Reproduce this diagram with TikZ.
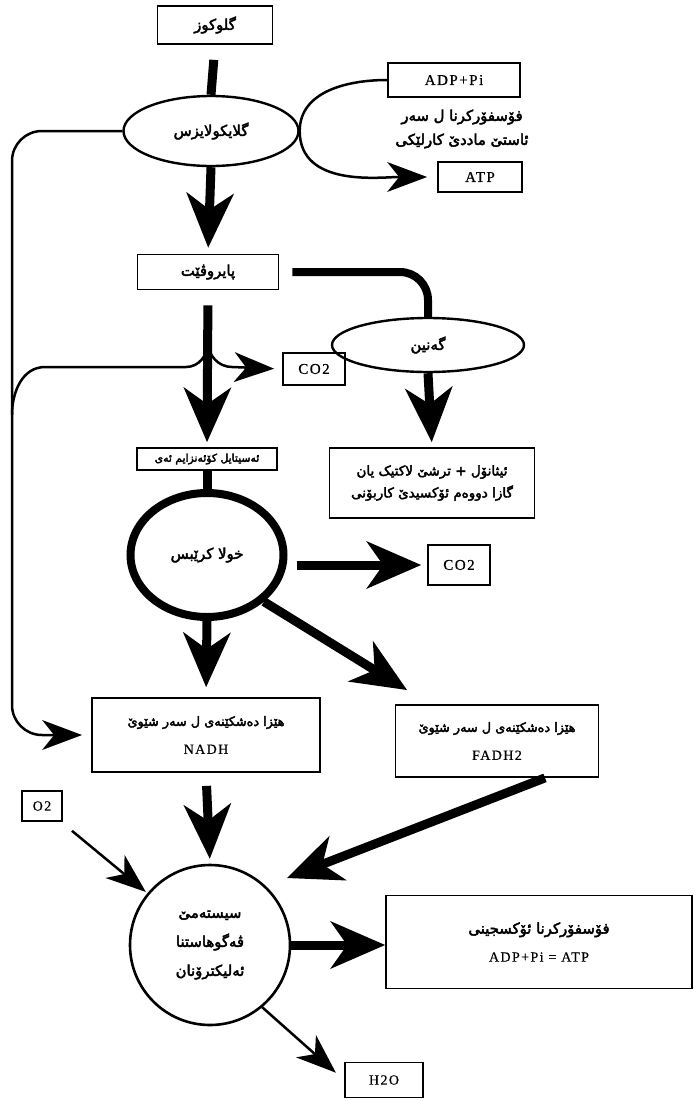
\documentclass[tikz,border=0pt]{standalone}
\usepackage{fontspec}
\setmainfont{Liberation Serif}
\newfontfamily\kurdfont[Script=Arabic, Scale=1.35, FakeBold=3]{DejaVu Sans}
\newfontfamily\latfont[LetterSpace=10, FakeBold=0.6]{Liberation Serif}
\TeXXeTstate=1
\usetikzlibrary{arrows.meta,shapes.geometric}
\newcommand{\kr}[1]{{\kurdfont\beginR #1\endR}}
\newcommand{\lat}[1]{{\latfont #1}}

\tikzset{
  box/.style = {draw, line width=1.8pt, inner sep=2pt, align=center,
    font=\fontsize{11}{20}\selectfont},
  oval/.style = {draw, ellipse, line width=2.4pt, inner sep=0pt,
    font=\fontsize{11}{12}\selectfont},
  bar/.style = {line width=9pt},
  big/.style = {line width=9pt,
    -{Stealth[length=55pt, width=48pt, inset=17pt, line width=0pt]}},
  slim/.style = {line width=2.5pt,
    -{Stealth[length=40pt, width=30pt, inset=12pt, line width=0pt]}}
}

\begin{document}
\begin{tikzpicture}[x=1pt, y=-1pt]
\useasboundingbox (0,0) rectangle (699,1101);

% glycolysis
\node[box, minimum width=115pt, minimum height=38pt] (glu) at (215,25) {\kr{گلوکوز}};
\node[oval, minimum width=175pt, minimum height=70pt] (gly) at (211,131) {\kr{گلایکولایزس}};
\node[box, minimum width=132pt, minimum height=34pt, font=\fontsize{15}{16}\selectfont] (adp) at (454,80) {\lat{ADP+Pi}};
\node[align=center, font=\fontsize{11}{24}\selectfont] (subst) at (462,129) {\kr{فۆسفۆرکرنا ل سەر}\\\kr{ئاستێ ماددێ کارلێکی}};
\node[box, minimum width=84pt, minimum height=30pt, font=\fontsize{15}{16}\selectfont] (atp) at (480,177) {\lat{ATP}};

% pyruvate and fermentation
\node[box, minimum width=141pt, minimum height=35pt] (pyr) at (208,272) {\kr{پایروڤێت}};
\node[oval, minimum width=192pt, minimum height=54pt] (ferm) at (428,345) {\kr{گەنین}};
\node[box, minimum width=62pt, minimum height=32pt, font=\fontsize{15}{16}\selectfont] (co2a) at (314,369) {\lat{CO2}};
\node[box, minimum width=140pt, minimum height=22pt, font=\fontsize{8}{10}\selectfont] (acoa) at (207,459) {\kr{ئەسیتایل کۆئەنزایم ئەی}};
\node[box, minimum width=205pt, minimum height=70pt, font=\fontsize{10}{22}\selectfont] (eth) at (432,483) {\kr{ئیثانۆل + ترشێ لاکتیک یان}\\\kr{گازا دووەم ئۆکسیدێ کاربۆنی}};

% krebs
\node[draw, ellipse, line width=8pt, minimum width=153pt, minimum height=124pt, font=\fontsize{11}{12}\selectfont] (krebs) at (207,555) {\kr{خولا کرێبس}};
\node[box, minimum width=62pt, minimum height=40pt, font=\fontsize{15}{16}\selectfont] (co2b) at (459,565) {\lat{CO2}};
\node[box, minimum width=228pt, minimum height=74pt, font=\fontsize{9.5}{28}\selectfont] (nadh) at (206,735) {\kr{هێزا دەشکێنەی ل سەر شێوێ}\\{\fontsize{14}{16}\selectfont\lat{NADH}}};
\node[box, minimum width=203pt, minimum height=72pt, font=\fontsize{9.5}{28}\selectfont] (fadh) at (497,741) {\kr{هێزا دەشکێنەی ل سەر شێوێ}\\{\fontsize{14}{16}\selectfont\lat{FADH2}}};

% electron transport
\node[box, minimum width=40pt, minimum height=30pt, font=\fontsize{14}{15}\selectfont] (o2) at (42,806) {\lat{O2}};
\node[draw, circle, line width=2.6pt, minimum size=160pt, align=center, font=\fontsize{11}{29}\selectfont] (ets) at (210,945) {\kr{سیستەمێ}\\\kr{ڤەگوهاستنا}\\\kr{ئەلیکترۆنان}};
\node[box, minimum width=306pt, minimum height=93pt, font=\fontsize{11}{28}\selectfont] (oxp) at (539,942) {\kr{فۆسفۆرکرنا ئۆکسجینی}\\{\fontsize{14}{15}\selectfont\lat{ADP+Pi = ATP}}};
\node[box, minimum width=78pt, minimum height=35pt, font=\fontsize{14}{15}\selectfont] (h2o) at (384,1080) {\lat{H2O}};

\coordinate (loopbot) at (12,735);
\coordinate (sidejoin) at (12,415);
\coordinate (fork) at (208,342);
\coordinate (fadhtip) at (407,690);
\coordinate (etsin) at (287,878);

\draw[bar, shorten <=15pt] (glu.south) -- (gly.north);
\draw[big, shorten >=6pt] (gly.south) -- (pyr.north);
\draw[slim, shorten >=10pt] (adp.west) to[out=180, in=90] (gly.east) to[out=-90, in=180] (atp.west);
\draw[slim, rounded corners=30pt, shorten >=9pt] (gly.west) -| (loopbot) -- (nadh.west);
\draw[line width=2.5pt] (sidejoin) to[out=90, in=180] (45,367) -- (186,367) to[out=0, in=-90] (fork);
\draw[slim, shorten >=8pt] (fork) to[out=-90, in=180] (232,367) -- (co2a.west);
\draw[big, shorten <=15pt, shorten >=5pt] (pyr.south) -- (acoa.north);
\draw[line width=8pt, rounded corners=28pt, shorten <=13pt] (pyr.east) -| (ferm.north);
\draw[big, shorten >=5pt] (ferm.south) -- (eth.north);
\draw[bar] (acoa.south) -- (krebs.north);
\draw[big, shorten <=9pt, shorten >=6pt] (krebs.east |- co2b.west) -- (co2b.west);
\draw[big, shorten >=10pt] (krebs.south) -- (nadh.north);
\draw[big] (krebs.south east) -- (fadhtip);
\draw[big, shorten <=13pt, shorten >=5pt] (nadh.south) -- (ets.north);
\draw[big] ([xshift=48pt]fadh.south) -- (etsin);
\draw[slim, shorten <=14pt, shorten >=2pt] (o2) -- (ets);
\draw[big] (ets.east) -- (ets.east -| oxp.west);
\draw[slim, shorten >=11pt] (ets.-50) -- (h2o.west);
\end{tikzpicture}
\end{document}
